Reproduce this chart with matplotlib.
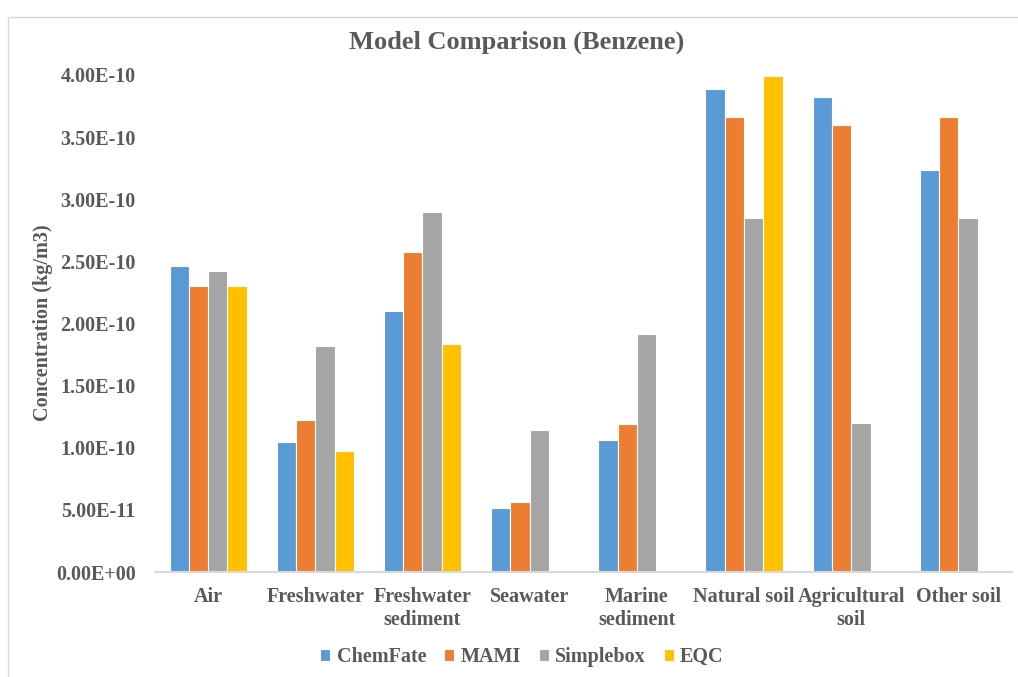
import numpy as np
import matplotlib.pyplot as plt
from matplotlib.patches import Rectangle

categories = ["Air", "Freshwater", "Freshwater\nsediment", "Seawater", "Marine\nsediment",
              "Natural soil", "Agricultural\nsoil", "Other soil"]
series_names = ["ChemFate", "MAMI", "Simplebox", "EQC"]
chemfate = [2.46e-10, 1.045e-10, 2.10e-10, 5.15e-11, 1.065e-10, 3.89e-10, 3.825e-10, 3.235e-10]
mami = [2.30e-10, 1.22e-10, 2.575e-10, 5.6e-11, 1.19e-10, 3.66e-10, 3.60e-10, 3.66e-10]
simplebox = [2.42e-10, 1.815e-10, 2.895e-10, 1.145e-10, 1.915e-10, 2.85e-10, 1.20e-10, 2.85e-10]
eqc = [2.30e-10, 9.7e-11, 1.835e-10, 0, 0, 3.99e-10, 0, 0]
colors = ["#5B9BD5", "#ED7D31", "#A5A5A5", "#FFC000"]
yticks = [0, 5e-11, 1e-10, 1.5e-10, 2e-10, 2.5e-10, 3e-10, 3.5e-10, 4e-10]
ytick_labels = ["0.00E+00", "5.00E-11", "1.00E-10", "1.50E-10", "2.00E-10",
                "2.50E-10", "3.00E-10", "3.50E-10", "4.00E-10"]

plt.rcParams['font.family'] = ['Liberation Serif', 'DejaVu Serif']
plt.rcParams['font.weight'] = 'bold'
txt = "#595959"

fig = plt.figure(figsize=(10.18, 6.77), dpi=100)
fig.patches.append(Rectangle((8 / 1018, -0.01), 1.02, 1 - 17 / 677 + 0.01, transform=fig.transFigure,
                             fill=False, edgecolor="#D9D9D9", linewidth=1))
ax = fig.add_axes([154.5 / 1018, 1 - 572 / 677, (1012 - 154.5) / 1018, (572 - 75) / 677])

x = np.arange(len(categories))
w = 0.18
all_series = [chemfate, mami, simplebox, eqc]
for i, (name, vals) in enumerate(zip(series_names, all_series)):
    ax.bar(x + (i - 1.5) * w, vals, w, color=colors[i], edgecolor="white", linewidth=0.8, label=name)

ax.set_xlim(-0.5, len(categories) - 0.5)
ax.set_ylim(0, 4e-10)
ax.set_yticks(yticks)
ax.set_yticklabels(ytick_labels)
ax.set_xticks(x)
ax.set_xticklabels(categories)
ax.tick_params(axis='both', length=0, labelsize=14.5, labelcolor=txt)
ax.tick_params(axis='y', pad=13.5)
ax.tick_params(axis='x', pad=11)
for lab in ax.get_xticklabels():
    lab.set_multialignment('center')

for s in ["top", "right", "left"]:
    ax.spines[s].set_visible(False)
ax.spines["bottom"].set_color("#D9D9D9")
ax.spines["bottom"].set_linewidth(1.5)

ax.set_ylabel("Concentration (kg/m3)", fontsize=14.5, color=txt, fontweight='bold')
ax.yaxis.set_label_coords(53 / 1018, (677 - 323) / 677, transform=fig.transFigure)

fig.text(517 / 1018, 1 - 42 / 677, "Model Comparison (Benzene)", ha="center", va="center",
         fontsize=19, color=txt, fontweight='bold')

leg = fig.legend(loc="center", bbox_to_anchor=(522 / 1018, 1 - 657 / 677), ncol=4, frameon=False,
                 fontsize=14.5, handlelength=0.5, handleheight=0.5, handletextpad=0.3, columnspacing=0.9)
for t in leg.get_texts():
    t.set_color(txt)

fig.savefig("out.png", dpi=100)
